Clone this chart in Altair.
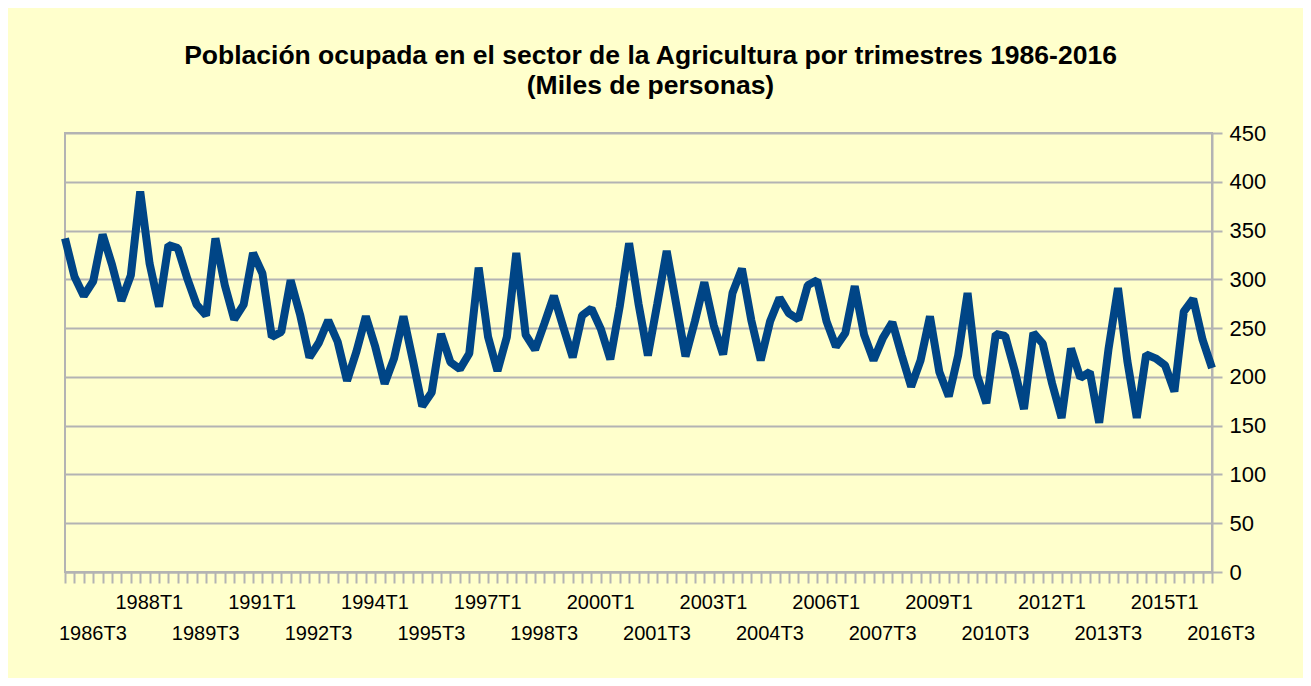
import altair as alt
import pandas as pd

# Quarterly series 1986T3 .. 2017T1 (miles de personas)
valores = [
    342, 303, 283, 298, 346, 315, 278, 304, 390, 316,
    272, 335, 332, 301, 274, 263, 342, 294, 259, 274,
    327, 306, 241, 246, 299, 264, 220, 235, 258, 236,
    196, 226, 262, 231, 193, 219, 262, 217, 170, 184,
    244, 215, 208, 224, 312, 241, 206, 241, 327, 243,
    228, 255, 283, 251, 220, 263, 270, 249, 218, 272,
    337, 275, 222, 275, 329, 275, 221, 257, 297, 253,
    223, 286, 311, 258, 217, 257, 281, 265, 259, 294,
    299, 257, 231, 245, 293, 243, 217, 240, 256, 222,
    190, 217, 262, 205, 180, 222, 286, 202, 173, 244,
    242, 207, 167, 245, 234, 193, 158, 229, 199, 205,
    153, 229, 291, 216, 158, 223, 219, 212, 185, 267,
    280, 238, 209,
]

# category labels: year + quarter, starting 1986T3
periodos = []
for i in range(len(valores)):
    k = 2 + i
    periodos.append(f"{1986 + k // 4}T{k % 4 + 1}")

etiquetas_arriba = [p for i, p in enumerate(periodos) if i % 12 == 6]
etiquetas_abajo = [p for i, p in enumerate(periodos) if i % 12 == 0]

y_ticks = [0, 50, 100, 150, 200, 250, 300, 350, 400, 450]

W, H = 1147, 439
GRAY = "#b3b3b3"
FONT = "Liberation Sans"

df = pd.DataFrame({"periodo": periodos, "valor": valores})
df_up = pd.DataFrame({"periodo": etiquetas_arriba})
df_dn = pd.DataFrame({"periodo": etiquetas_abajo})

xscale = alt.Scale(type="point", padding=0, domain=periodos)

line = alt.Chart(df).mark_line(
    color="#004586", strokeWidth=8, strokeJoin="bevel", strokeCap="butt"
).encode(
    x=alt.X("periodo:O", sort=None, scale=xscale,
            axis=alt.Axis(title=None, labels=False, ticks=True, tickSize=11,
                          tickColor=GRAY, tickWidth=2, domain=True,
                          domainColor=GRAY, domainWidth=2, grid=False)),
    y=alt.Y("valor:Q", scale=alt.Scale(domain=[0, 450], nice=False, zero=True),
            axis=alt.Axis(title=None, orient="right", values=y_ticks,
                          grid=True, gridColor=GRAY, gridWidth=2,
                          domain=True, domainColor=GRAY, domainWidth=2,
                          ticks=True, tickSize=10, tickColor=GRAY, tickWidth=2,
                          labelPadding=7, labelFontSize=22, labelFont=FONT,
                          labelColor="#000000")),
)

txt_up = alt.Chart(df_up).mark_text(
    align="left", baseline="middle", dx=-6, fontSize=20, font=FONT, color="#000000"
).encode(
    x=alt.X("periodo:O", sort=None, scale=xscale),
    y=alt.value(H + 31),
    text="periodo:N",
)

txt_dn = alt.Chart(df_dn).mark_text(
    align="left", baseline="middle", dx=-6, fontSize=20, font=FONT, color="#000000"
).encode(
    x=alt.X("periodo:O", sort=None, scale=xscale),
    y=alt.value(H + 62),
    text="periodo:N",
)

chart = alt.layer(line, txt_up, txt_dn).properties(
    width=W,
    height=H,
    autosize="none",
    padding={"left": 57, "top": 125, "right": 91, "bottom": 106},
    background="#FFFFCC",
    title=alt.TitleParams(
        text=["Población ocupada en el sector de la Agricultura por trimestres 1986-2016",
              "(Miles de personas)"],
        font=FONT, fontSize=26.5, fontWeight="bold", color="#000000",
        anchor="middle", frame="group", dx=12, offset=23, lineHeight=30,
    ),
).configure_view(
    stroke=GRAY, strokeWidth=2, fill="#FFFFCC"
)

chart.save("out.html", embed_options={"renderer": "svg", "actions": False})
